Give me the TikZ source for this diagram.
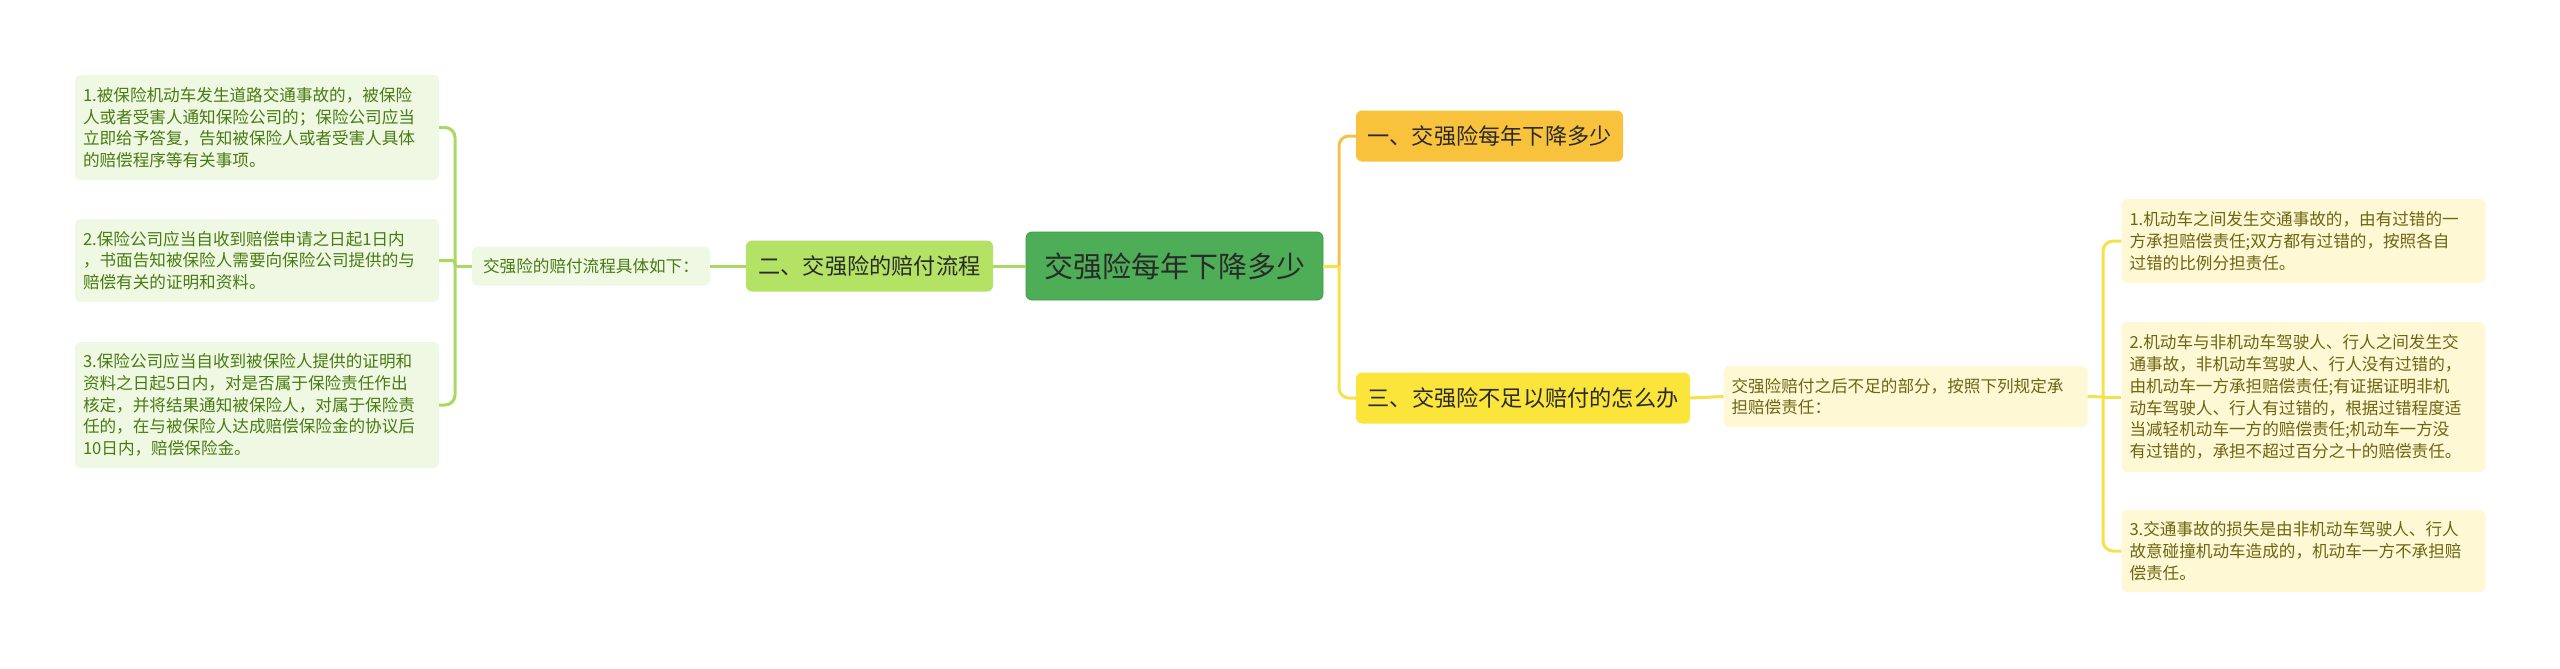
\documentclass[tikz,border=0pt]{standalone}
\usepackage{fontspec}
\setmainfont{Noto Sans CJK SC}
\definecolor{cfill}{HTML}{4DAE57}
\definecolor{cdraw}{HTML}{3E9A48}
\definecolor{lonefill}{HTML}{B4E264}
\definecolor{lsfill}{HTML}{EFF8E3}
\definecolor{lstext}{HTML}{4A7A12}
\definecolor{lline}{HTML}{A9D962}
\definecolor{rtopfill}{HTML}{F9C23C}
\definecolor{rbotfill}{HTML}{FBE53B}
\definecolor{rsfill}{HTML}{FEF8D5}
\definecolor{rstext}{HTML}{6E6512}
\definecolor{yline}{HTML}{F7E14A}
\definecolor{oline}{HTML}{F2C14E}
\definecolor{dtext}{HTML}{2A2A2A}
\begin{document}
\begin{tikzpicture}[x=1pt,y=-1pt,
  box/.style={rounded corners=6pt, inner xsep=8pt, inner ysep=0pt, anchor=center},
  small/.style={box, text width=348pt, align=left, font=\fontsize{16.6pt}{21.7pt}\selectfont},
  leafl/.style={small, fill=lsfill, text=lstext},
  leafr/.style={small, fill=rsfill, text=rstext},
  levone/.style={box, minimum height=51pt, text=dtext, font=\fontsize{22.2pt}{26pt}\selectfont},
  lcon/.style={draw=lline, line width=3pt},
  ycon/.style={draw=yline, line width=3pt},
  ocon/.style={draw=oline, line width=3pt}
]
\useasboundingbox (0,0) rectangle (2560,669);
\fill[white] (0,0) rectangle (2560,669);

% center
\node[box, fill=cfill, draw=cdraw, line width=0.8pt, minimum width=297pt, minimum height=68pt,
  text=dtext, font=\fontsize{29pt}{34pt}\selectfont] (c) at (1174.5,266) {交强险每年下降多少};

% left side
\node[levone, fill=lonefill, minimum width=247pt] (l1) at (869.5,266) {二、交强险的赔付流程};
\node[box, fill=lsfill, text=lstext, minimum width=238pt, minimum height=39pt,
  font=\fontsize{16.6pt}{21.7pt}\selectfont] (lmid) at (591,266) {交强险的赔付流程具体如下：};
\node[leafl, minimum height=105pt] (ll1) at (257,127.5) {1.被保险机动车发生道路交通事故的，被保险\\人或者受害人通知保险公司的；保险公司应当\\立即给予答复，告知被保险人或者受害人具体\\的赔偿程序等有关事项。};
\node[leafl, minimum height=83pt] (ll2) at (257,260.5) {2.保险公司应当自收到赔偿申请之日起1日内\\，书面告知被保险人需要向保险公司提供的与\\赔偿有关的证明和资料。};
\node[leafl, minimum height=126pt] (ll3) at (257,405) {3.保险公司应当自收到被保险人提供的证明和\\资料之日起5日内，对是否属于保险责任作出\\核定，并将结果通知被保险人，对属于保险责\\任的，在与被保险人达成赔偿保险金的协议后\\10日内，赔偿保险金。};

% right side
\node[levone, fill=rtopfill, minimum width=267pt] (r1) at (1489.5,136) {一、交强险每年下降多少};
\node[levone, fill=rbotfill, minimum width=334pt] (r3) at (1523,398) {三、交强险不足以赔付的怎么办};
\node[leafr, minimum height=61pt] (rmid) at (1905.5,396.5) {交强险赔付之后不足的部分，按照下列规定承\\担赔偿责任：};
\node[leafr, minimum height=84pt] (rl1) at (2303.5,241) {1.机动车之间发生交通事故的，由有过错的一\\方承担赔偿责任;双方都有过错的，按照各自\\过错的比例分担责任。};
\node[leafr, minimum height=150pt] (rl2) at (2303.5,397) {2.机动车与非机动车驾驶人、行人之间发生交\\通事故，非机动车驾驶人、行人没有过错的，\\由机动车一方承担赔偿责任;有证据证明非机\\动车驾驶人、行人有过错的，根据过错程度适\\当减轻机动车一方的赔偿责任;机动车一方没\\有过错的，承担不超过百分之十的赔偿责任。};
\node[leafr, minimum height=82pt] (rl3) at (2303.5,551) {3.交通事故的损失是由非机动车驾驶人、行人\\故意碰撞机动车造成的，机动车一方不承担赔\\偿责任。};

% connectors left
\draw[lcon] (c.west) -- (l1.east);
\draw[lcon] (l1.west) -- (lmid.east);
\coordinate (jl) at (455,266);
\draw[lcon] (lmid.west) -- (jl);
\draw[lcon, rounded corners=10pt] (jl) |- (ll1.east);
\draw[lcon, rounded corners=3pt] (jl) |- (ll2.east);
\draw[lcon, rounded corners=10pt] (jl) |- (ll3.east);

% connectors right
\coordinate (jc) at (1339,266);
\draw[ycon] (c.east) -- (jc);
\draw[ocon, rounded corners=10pt] (jc) |- (r1.west);
\draw[ycon, rounded corners=10pt] (jc) |- (r3.west);
\draw[ycon] (r3.east) -- (rmid.west);
\coordinate (jr) at (2103,397);
\draw[ycon] (rmid.east) -- (jr);
\draw[ycon, rounded corners=10pt] (jr) |- (rl1.west);
\draw[ycon] (jr) -- (rl2.west);
\draw[ycon, rounded corners=10pt] (jr) |- (rl3.west);
\end{tikzpicture}
\end{document}
